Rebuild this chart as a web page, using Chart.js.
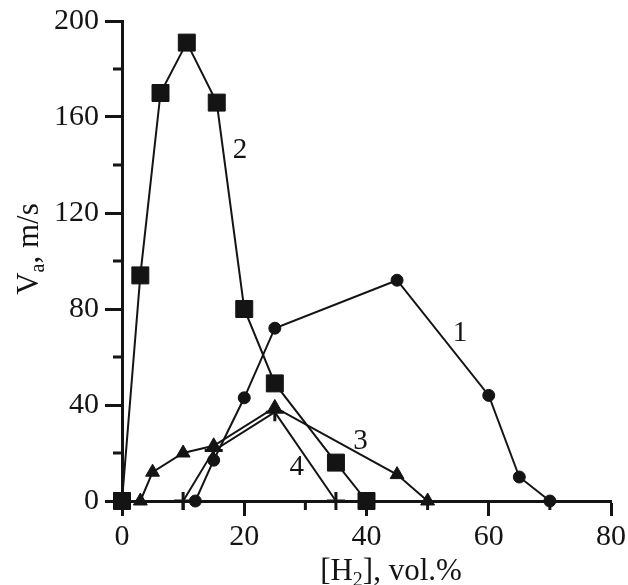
<!DOCTYPE html>
<html>
<head>
<meta charset="utf-8">
<script src="https://cdn.jsdelivr.net/npm/chart.js@4.4.1/dist/chart.umd.min.js"></script>
<style>
    body { margin: 0; background: #fff; font-family: 'Liberation Serif', serif; }
    #wrap { width: 628px; height: 585px; }
</style>
</head>
<body>
<div id="wrap"><canvas id="vaChart" width="628" height="585"></canvas></div>
<script>
// tick values
const xTicks = [0, 20, 40, 60, 80];
const xMinor = [10, 30, 50, 70];
const yTicks = [0, 40, 80, 120, 160, 200];
const yMinor = [20, 60, 100, 140, 180];

// curve 1 (circles)
const h2Curve1 = [12, 15, 20, 25, 45, 60, 65, 70];
const vaCurve1 = [0, 17, 43, 72, 92, 44, 10, 0];
// curve 2 (squares)
const h2Curve2 = [0, 3, 6.3, 10.6, 15.5, 20, 25, 35, 40];
const vaCurve2 = [0, 94, 170, 191, 166, 80, 49, 16, 0];
// curve 3 (triangles)
const h2Curve3 = [3, 5, 10, 15, 25, 45, 50];
const vaCurve3 = [0, 12, 20, 23, 39, 11, 0];
// curve 4 (crosses)
const h2Curve4 = [10, 15, 25, 35];
const vaCurve4 = [0, 21, 37, 0];

const curveNames = ['1', '2', '3', '4'];

const FONT = '"Liberation Serif", "Times New Roman", serif';
const INK = '#141414';

const pts = (xs, ys) => xs.map((x, i) => ({ x: x, y: ys[i] }));

function series(xs, ys, style, r, bw) {
    return {
        data: pts(xs, ys),
        showLine: true,
        borderColor: INK,
        borderWidth: 2,
        pointStyle: style,
        pointRadius: r,
        pointBackgroundColor: INK,
        pointBorderColor: INK,
        pointBorderWidth: bw,
        tension: 0,
        clip: false
    };
}

// minor ticks, curve numbers and axis titles with subscripts
const extras = {
    id: 'extras',
    beforeDatasetsDraw(chart) {
        const { ctx, chartArea, scales } = chart;
        ctx.save();
        ctx.strokeStyle = INK;
        ctx.lineWidth = 3;
        yMinor.forEach(v => {
            const py = scales.y.getPixelForValue(v);
            ctx.beginPath();
            ctx.moveTo(chartArea.left - 9, py);
            ctx.lineTo(chartArea.left, py);
            ctx.stroke();
        });
        xMinor.forEach(v => {
            const px = scales.x.getPixelForValue(v);
            ctx.beginPath();
            ctx.moveTo(px, chartArea.bottom);
            ctx.lineTo(px, chartArea.bottom + 9);
            ctx.stroke();
        });
        ctx.restore();
    },
    afterDraw(chart) {
        const { ctx, scales } = chart;
        ctx.save();
        ctx.fillStyle = INK;
        ctx.font = '29px ' + FONT;
        ctx.textAlign = 'center';
        ctx.textBaseline = 'middle';
        // curve numbers, placed in data units
        const spots = [[55.3, 70], [19.3, 146], [39, 25], [28.6, 14]];
        curveNames.forEach((t, i) => {
            ctx.fillText(t, scales.x.getPixelForValue(spots[i][0]), scales.y.getPixelForValue(spots[i][1]));
        });

        // text with a subscript, centred on (cx, base)
        function subText(parts, cx, base) {
            ctx.textAlign = 'left';
            ctx.textBaseline = 'alphabetic';
            let total = 0;
            parts.forEach(p => {
                ctx.font = (p.sub ? '20px ' : '31px ') + FONT;
                total += ctx.measureText(p.t).width;
            });
            let x = cx - total / 2;
            parts.forEach(p => {
                ctx.font = (p.sub ? '20px ' : '31px ') + FONT;
                ctx.fillText(p.t, x, base + (p.sub ? 6 : 0));
                x += ctx.measureText(p.t).width;
            });
        }

        // x title
        subText([{ t: '[H' }, { t: '2', sub: true }, { t: '], vol.%' }], 391, 580);

        // y title (rotated)
        ctx.translate(38, 249);
        ctx.rotate(-Math.PI / 2);
        subText([{ t: 'V' }, { t: 'a', sub: true }, { t: ', m/s' }], 0, 0);
        ctx.restore();
    }
};

function draw() {
    new Chart(document.getElementById('vaChart'), {
        type: 'scatter',
        data: {
            datasets: [
                series(h2Curve4, vaCurve4, 'cross', 9, 3),
                series(h2Curve3, vaCurve3, 'triangle', 8, 1),
                series(h2Curve1, vaCurve1, 'circle', 6, 1),
                series(h2Curve2, vaCurve2, 'rect', 12, 1)
            ]
        },
        options: {
            responsive: false,
            animation: false,
            layout: { padding: { top: 21, right: 17, left: 0, bottom: 0 } },
            plugins: {
                legend: { display: false },
                tooltip: { enabled: false }
            },
            scales: {
                x: {
                    type: 'linear',
                    min: 0,
                    max: 80,
                    afterBuildTicks: s => { s.ticks = xTicks.map(v => ({ value: v })); },
                    afterFit: s => { s.height = 84; s.paddingLeft = 0; s.paddingRight = 0; },
                    grid: { drawOnChartArea: false, drawTicks: true, tickLength: 15, tickWidth: 3, tickColor: INK },
                    border: { color: INK, width: 3 },
                    ticks: { font: { family: FONT, size: 30 }, color: INK, padding: 3, maxRotation: 0 }
                },
                y: {
                    type: 'linear',
                    min: 0,
                    max: 200,
                    afterBuildTicks: s => { s.ticks = yTicks.map(v => ({ value: v })); },
                    afterFit: s => { s.width = 122; s.paddingTop = 0; s.paddingBottom = 0; },
                    grid: { drawOnChartArea: false, drawTicks: true, tickLength: 17, tickWidth: 3, tickColor: INK },
                    border: { color: INK, width: 3 },
                    ticks: { font: { family: FONT, size: 30 }, color: INK, padding: 6 }
                }
            }
        }
        ,
        plugins: [extras]
    });
}

if (document.fonts && document.fonts.load) {
    document.fonts.load('30px "Liberation Serif"').then(draw, draw);
} else {
    draw();
}
</script>
</body>
</html>
